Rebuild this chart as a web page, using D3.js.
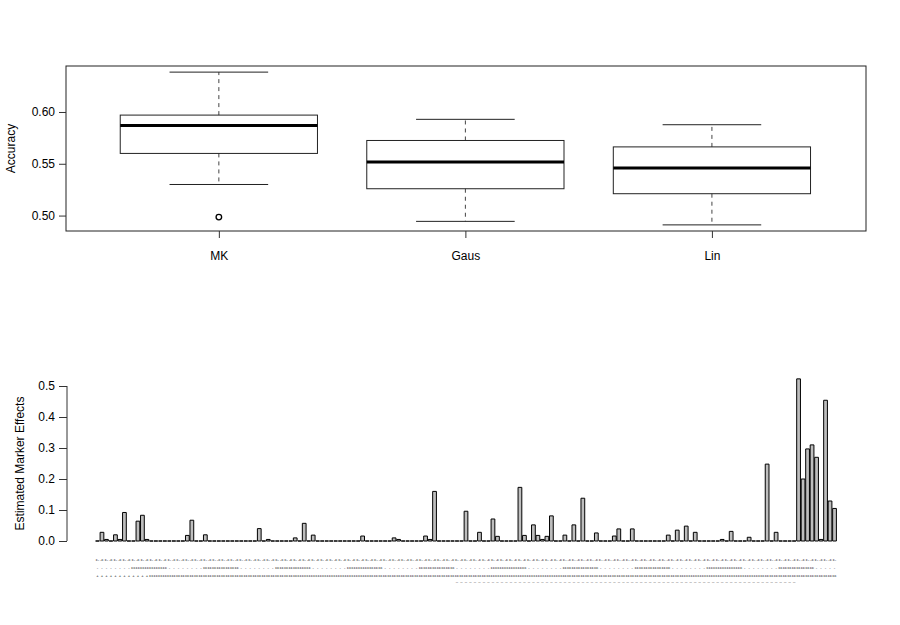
<!DOCTYPE html>
<html>
<head>
<meta charset="utf-8">
<script src="https://cdn.jsdelivr.net/npm/d3@7"></script>
<style>
  html, body { margin: 0; padding: 0; background: #fff; }
  svg { display: block; }
  text { font-family: "Liberation Sans", Arial, Helvetica, sans-serif; fill: #000; }
</style>
</head>
<body>
<svg id="chart" width="900" height="625"></svg>
<script>
// ---------- Data: top boxplot ----------
const methods = ["MK", "Gaus", "Lin"];
const whiskerLow  = [0.530, 0.4944, 0.4910];
const q1Values    = [0.560, 0.5259, 0.5211];
const medians     = [0.587, 0.5517, 0.5459];
const q3Values    = [0.597, 0.5725, 0.5663];
const whiskerHigh = [0.6385, 0.5929, 0.5877];
const outliers    = [[0.4985], [], []];
const accuracyTicks = [0.50, 0.55, 0.60];

// ---------- Data: bottom bar chart (165 markers) ----------
const markerEffects = [
  0, 0.028, 0.005, 0, 0.020, 0.005, 0.092, 0, 0, 0.064, 0.083, 0.005, 0, 0, 0,
  0, 0, 0, 0, 0, 0.018, 0.067, 0, 0, 0.020, 0, 0, 0, 0, 0,
  0, 0, 0, 0, 0, 0, 0.040, 0, 0.005, 0, 0, 0, 0, 0, 0.010,
  0, 0.057, 0, 0.019, 0, 0, 0, 0, 0, 0, 0, 0, 0, 0, 0.016,
  0, 0, 0, 0, 0, 0, 0.010, 0.005, 0, 0, 0, 0, 0, 0.016, 0.005,
  0.160, 0, 0, 0, 0, 0, 0, 0.096, 0, 0, 0.028, 0, 0, 0.071, 0.015,
  0, 0, 0, 0, 0.173, 0.018, 0, 0.052, 0.018, 0.005, 0.015, 0.081, 0, 0, 0.019,
  0, 0.052, 0, 0.138, 0, 0, 0.026, 0, 0, 0, 0.016, 0.039, 0, 0, 0.039,
  0, 0, 0, 0, 0, 0, 0, 0.019, 0, 0.035, 0, 0.048, 0, 0.028, 0,
  0, 0, 0, 0, 0.005, 0, 0.031, 0, 0, 0, 0.012, 0, 0, 0, 0.248,
  0, 0.028, 0, 0, 0, 0, 0.523, 0.200, 0.297, 0.310, 0.270, 0.005, 0.454, 0.129, 0.105
];
const effectTicks = [0.0, 0.1, 0.2, 0.3, 0.4, 0.5];
// marker labels (stacked lines; too small to read in the source)
const markerIndex = d3.range(markerEffects.length);
const labelLine1 = markerIndex.map(i => (i % 2 === 0) ? "c-" : "-c");
const labelLine2 = markerIndex.map(i => (Math.floor(i / 8) % 2 === 0) ? "-" : "cc");
const labelLine3 = markerIndex.map(i => i < 12 ? "+" : "cc");
const labelLine4 = markerIndex.map(i => (i >= 80 && i < 156) ? "_" : "");

const svg = d3.select("#chart");

// ================= TOP: boxplot =================
const topM = { left: 66, right: 866, top: 66, bottom: 231 };
const xTop = d3.scaleLinear().domain([0.38, 3.625]).range([topM.left, topM.right]);
const yTop = d3.scaleLinear().domain([0.4851, 0.6444]).range([topM.bottom, topM.top]);
const g1 = svg.append("g");

// frame
g1.append("rect")
  .attr("x", topM.left).attr("y", topM.top)
  .attr("width", topM.right - topM.left).attr("height", topM.bottom - topM.top)
  .attr("fill", "none").attr("stroke", "#222").attr("stroke-width", 1);

// y axis
const yAxTop = d3.axisLeft(yTop).tickValues(accuracyTicks).tickFormat(d3.format(".2f")).tickSize(7).tickPadding(4);
const ya1 = g1.append("g").attr("transform", `translate(${topM.left},0)`).call(yAxTop);
ya1.select(".domain").remove();
ya1.selectAll("line").attr("stroke", "#333");
ya1.selectAll("text").attr("font-size", 12).attr("font-family", "Liberation Sans, Arial, sans-serif").attr("fill", "#111");

// x axis
const xAxTop = d3.axisBottom(xTop).tickValues([1, 2, 3]).tickFormat((d, i) => methods[i]).tickSize(7).tickPadding(13);
const xa1 = g1.append("g").attr("transform", `translate(0,${topM.bottom})`).call(xAxTop);
xa1.select(".domain").remove();
xa1.selectAll("line").attr("stroke", "#333");
xa1.selectAll("text").attr("font-size", 12).attr("font-family", "Liberation Sans, Arial, sans-serif").attr("fill", "#111");

// y title
g1.append("text")
  .attr("transform", `translate(15,${(topM.top + topM.bottom) / 2}) rotate(-90)`)
  .attr("text-anchor", "middle").attr("font-size", 12).text("Accuracy");

methods.forEach((m, i) => {
  const cx = xTop(i + 1);
  const bw = xTop(1.4) - xTop(1);   // half box width (0.4)
  const cw = xTop(1.2) - xTop(1);   // half cap width (0.2)
  // whiskers (dashed)
  g1.append("line").attr("x1", cx).attr("x2", cx)
    .attr("y1", yTop(q3Values[i])).attr("y2", yTop(whiskerHigh[i]))
    .attr("stroke", "#444").attr("stroke-dasharray", "4,4");
  g1.append("line").attr("x1", cx).attr("x2", cx)
    .attr("y1", yTop(q1Values[i])).attr("y2", yTop(whiskerLow[i]))
    .attr("stroke", "#444").attr("stroke-dasharray", "4,4");
  // caps
  [whiskerHigh[i], whiskerLow[i]].forEach(v => {
    g1.append("line").attr("x1", cx - cw).attr("x2", cx + cw)
      .attr("y1", yTop(v)).attr("y2", yTop(v)).attr("stroke", "#222");
  });
  // box
  g1.append("rect")
    .attr("x", cx - bw).attr("y", yTop(q3Values[i]))
    .attr("width", 2 * bw).attr("height", yTop(q1Values[i]) - yTop(q3Values[i]))
    .attr("fill", "none").attr("stroke", "#222");
  // median
  g1.append("line").attr("x1", cx - bw).attr("x2", cx + bw)
    .attr("y1", yTop(medians[i])).attr("y2", yTop(medians[i]))
    .attr("stroke", "#000").attr("stroke-width", 3);
  // outliers
  outliers[i].forEach(v => {
    g1.append("circle").attr("cx", cx).attr("cy", yTop(v)).attr("r", 2.8)
      .attr("fill", "none").attr("stroke", "#000").attr("stroke-width", 1.3);
  });
});

// ================= BOTTOM: bar chart =================
const xBot = d3.scaleBand().domain(markerIndex).range([95.6, 836.4]).paddingInner(0.2 / 1.2).paddingOuter(0);
const yBot = d3.scaleLinear().domain([0, 0.5]).range([541, 386]);
const g2 = svg.append("g");

g2.selectAll("path.bar").data(markerEffects).enter().append("path")
  .attr("class", "bar")
  .attr("d", (d, i) => {
    const x0 = xBot(i), x1 = xBot(i) + xBot.bandwidth();
    const y0 = yBot(0), y1 = yBot(d);
    return `M${x0},${y0}V${y1}H${x1}V${y0}Z`;
  })
  .attr("fill", "#bebebe").attr("stroke", "#000").attr("stroke-width", 1);

// y axis
const yAxBot = d3.axisLeft(yBot).tickValues(effectTicks).tickFormat(d3.format(".1f")).tickSize(8).tickPadding(4);
const ya2 = g2.append("g").attr("transform", `translate(67,0)`).call(yAxBot);
ya2.select(".domain").attr("stroke", "#333").attr("d", `M0,${yBot(0)}V${yBot(0.5)}`);
ya2.selectAll("line").attr("stroke", "#333");
ya2.selectAll("text").attr("font-size", 12).attr("font-family", "Liberation Sans, Arial, sans-serif").attr("fill", "#111");

g2.append("text")
  .attr("transform", `translate(24,${(yBot(0) + yBot(0.5)) / 2}) rotate(-90)`)
  .attr("text-anchor", "middle").attr("font-size", 12).text("Estimated Marker Effects");

// tiny marker labels (stacked lines)
const labelRows = [[labelLine1, 561], [labelLine2, 569], [labelLine3, 577], [labelLine4, 582]];
labelRows.forEach(([arr, y]) => {
  g2.append("g").selectAll("text").data(arr).enter().append("text")
    .attr("x", (d, i) => xBot(i) + xBot.bandwidth() / 2)
    .attr("y", y)
    .attr("text-anchor", "middle")
    .attr("font-size", 4.2)
    .attr("fill", "#222")
    .text(d => d);
});
</script>
</body>
</html>
